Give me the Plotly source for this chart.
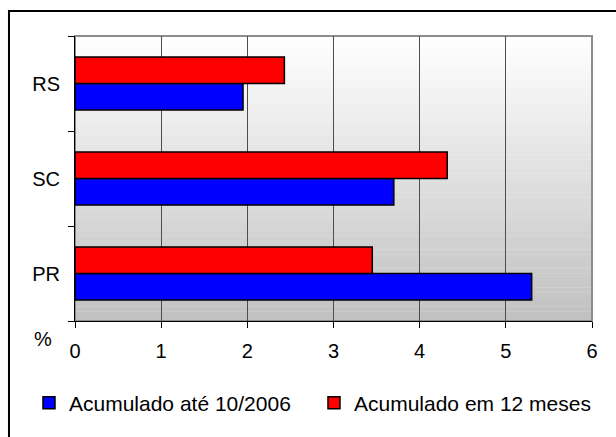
import plotly.graph_objects as go

categories = ["PR", "SC", "RS"]
acum_ate = [5.3, 3.7, 1.95]
acum_12m = [3.45, 4.32, 2.43]
series_names = ["Acumulado até 10/2006", "Acumulado em 12 meses"]
x_ticks = [0, 1, 2, 3, 4, 5, 6]

FONT = "Liberation Sans, Arial, sans-serif"

fig = go.Figure()
fig.add_trace(go.Bar(
    y=categories, x=acum_ate, orientation="h", name=series_names[0],
    marker=dict(color="#0000ff", line=dict(color="#000000", width=1.5)),
))
fig.add_trace(go.Bar(
    y=categories, x=acum_12m, orientation="h", name=series_names[1],
    marker=dict(color="#ff0000", line=dict(color="#000000", width=1.5)),
))

shapes = []
# vertical gradient background (white -> gray)
n = 60
for i in range(n):
    f = (i + 0.5) / n
    v = int(round(255 - (255 - 192) * f))
    shapes.append(dict(
        type="rect", xref="paper", yref="paper",
        x0=0, x1=1, y0=1 - (i + 1) / n, y1=1 - i / n + 0.001,
        fillcolor=f"rgb({v},{v},{v})", line=dict(width=0), layer="below",
    ))
# plot area border (gray)
shapes.append(dict(type="rect", xref="paper", yref="paper", x0=0, x1=1, y0=0, y1=1,
                   line=dict(color="#8c8c8c", width=2), layer="below"))
# outer chart border
shapes.append(dict(type="rect", xref="paper", yref="paper",
                   x0=-0.1277, x1=1.06, y0=-0.45, y1=1.0877,
                   line=dict(color="#000000", width=2), layer="below"))

fig.update_layout(
    width=616, height=437,
    margin=dict(l=75, r=24, t=36, b=116),
    paper_bgcolor="#ffffff", plot_bgcolor="rgba(0,0,0,0)",
    barmode="group", bargap=0.44, bargroupgap=0,
    font=dict(family=FONT, size=20, color="#000000"),
    shapes=shapes,
    showlegend=True,
    legend=dict(orientation="h", x=-0.089, xanchor="left", y=-0.288, yanchor="middle",
                font=dict(size=21), entrywidth=240, itemwidth=30,
                bgcolor="rgba(0,0,0,0)"),
    xaxis=dict(range=[0, 6], tickvals=x_ticks, ticktext=[str(t) for t in x_ticks],
               showgrid=True, gridcolor="#4d4d4d", gridwidth=1,
               showline=True, linecolor="#000000", linewidth=1,
               ticks="outside", ticklen=6, tickcolor="#000000",
               ticklabelstandoff=6, zeroline=False,
               tickfont=dict(size=20)),
    yaxis=dict(type="category", categoryorder="array", categoryarray=categories,
               showgrid=False, showline=True, linecolor="#000000", linewidth=1,
               ticks="outside", ticklen=6, tickcolor="#000000",
               tickson="boundaries", ticklabelstandoff=10,
               tickfont=dict(size=20)),
    annotations=[dict(text="%", xref="paper", yref="paper", x=-0.062, y=-0.063,
                      showarrow=False, font=dict(size=20), xanchor="center", yanchor="middle")],
)

fig.write_html("out.html", config={"displayModeBar": False},
               post_script="document.body.style.margin='0';")
